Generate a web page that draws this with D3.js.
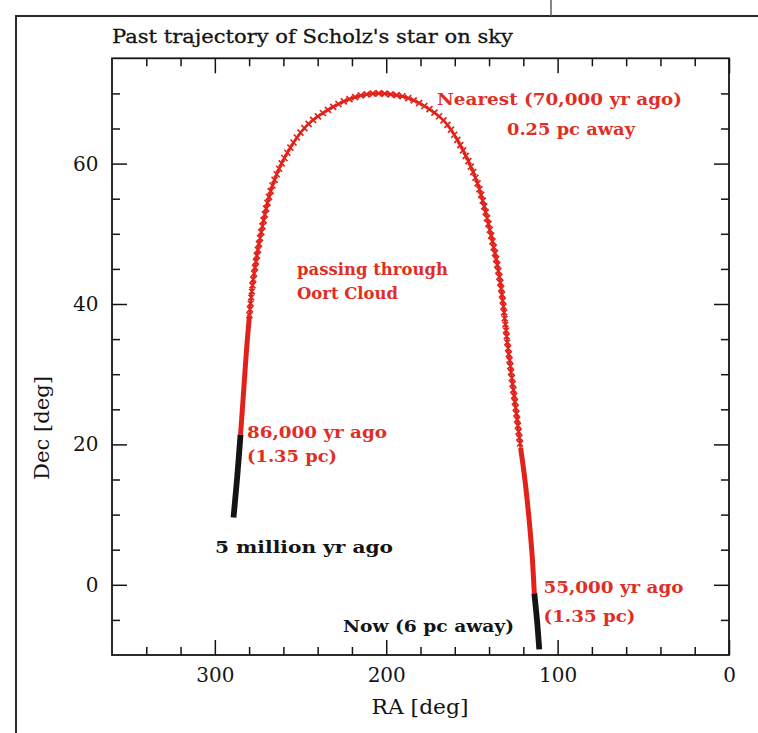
<!DOCTYPE html>
<html>
<head>
<meta charset="utf-8">
<script src="https://cdn.jsdelivr.net/npm/d3@7"></script>
<style>
  html, body { margin: 0; padding: 0; background: #ffffff; }
  svg { display: block; }
</style>
</head>
<body>
<svg id="chart" width="758" height="733"></svg>
<script>
// Scholz's star: its past path across the sky, RA / Dec in degrees.

const raTicksMajor = [300, 200, 100, 0];
const raTicksMinor = [340, 320, 280, 260, 240, 220, 180, 160, 140, 120, 80, 60, 40, 20];
const decTicksMajor = [0, 20, 40, 60];
const decTicksMinor = [-5, 5, 10, 15, 25, 30, 35, 45, 50, 55, 65, 70];

// [RA, Dec] — 5 million yr ago up to 86,000 yr ago (black)
const trackEarly = [[289.1, 9.6], [287.0, 15.2], [285.0, 21.4]];
// 86,000 yr ago, entering the Oort Cloud (red, solid)
const trackInbound = [[285.0, 21.4], [283.3, 27.2], [281.5, 33.5], [279.8, 38.4]];
// through closest approach, 70,000 yr ago (red, marked steps)
const trackArc = [
  [279.8, 38.4], [277.7, 43.3], [272.8, 50.4], [266.6, 56.7], [258.5, 61.2],
  [246.8, 65.3], [231.6, 68.0], [216.5, 69.6], [205.4, 70.0], [195.3, 69.8],
  [187.9, 69.4], [174.4, 67.7], [166.0, 66.0], [158.1, 63.2], [147.2, 57.5],
  [139.4, 50.4], [133.6, 43.3], [128.9, 33.7], [124.0, 24.3], [121.6, 19.5]
];
// leaving the Oort Cloud, down to 55,000 yr ago (red, solid)
const trackOutbound = [[121.6, 19.5], [119.0, 14.8], [115.2, 5.3], [113.6, -1.2]];
// 55,000 yr ago up to now (black)
const trackLate = [[113.6, -1.2], [112.0, -5.1], [110.7, -9.2]];

const RED = "#e2221a";
const RED_TEXT = "#df2e26";
const INK = "#141414";

const svg = d3.select("#chart");
const plotLeft = 112, plotRight = 729, plotTop = 58.3, plotBottom = 655;

const x = d3.scaleLinear().domain([360, 0]).range([plotLeft, plotRight]);
const y = d3.scaleLinear().domain([-10, 75]).range([plotBottom, plotTop]);

// page border
svg.append("path")
  .attr("d", `M16,733 V16 H758`)
  .attr("fill", "none").attr("stroke", "#2a2a2a").attr("stroke-width", 2);
svg.append("line")
  .attr("x1", 551).attr("x2", 551).attr("y1", 0).attr("y2", 16)
  .attr("stroke", "#555").attr("stroke-width", 1.4);

// title
svg.append("text")
  .attr("x", 112).attr("y", 43)
  .attr("font-family", "DejaVu Serif").attr("font-size", 18.5)
  .attr("fill", INK).attr("stroke", INK).attr("stroke-width", 0.3)
  .attr("textLength", 401).attr("lengthAdjust", "spacingAndGlyphs")
  .text("Past trajectory of Scholz's star on sky");

// axes: ticks point inward on all four sides
function styleAxis(g) {
  g.select(".domain").remove();
  g.style("color", INK);
  g.selectAll(".tick line").attr("stroke-width", 1.5);
  g.selectAll(".tick text")
    .attr("font-family", "DejaVu Serif").attr("font-size", 20).attr("fill", INK);
}
const fmt = d3.format("d");

svg.append("g").attr("transform", `translate(0,${plotBottom})`)
  .call(d3.axisBottom(x).tickValues(raTicksMajor).tickSize(-15).tickPadding(12.8).tickFormat(fmt))
  .call(styleAxis);
svg.append("g").attr("transform", `translate(0,${plotBottom})`)
  .call(d3.axisBottom(x).tickValues(raTicksMinor).tickSize(-8).tickFormat(""))
  .call(styleAxis);
svg.append("g").attr("transform", `translate(0,${plotTop})`)
  .call(d3.axisTop(x).tickValues(raTicksMajor).tickSize(-15).tickFormat(""))
  .call(styleAxis);
svg.append("g").attr("transform", `translate(0,${plotTop})`)
  .call(d3.axisTop(x).tickValues(raTicksMinor).tickSize(-8).tickFormat(""))
  .call(styleAxis);
svg.append("g").attr("transform", `translate(${plotLeft},0)`)
  .call(d3.axisLeft(y).tickValues(decTicksMajor).tickSize(-15).tickPadding(13.5).tickFormat(fmt))
  .call(styleAxis);
svg.append("g").attr("transform", `translate(${plotLeft},0)`)
  .call(d3.axisLeft(y).tickValues(decTicksMinor).tickSize(-8).tickFormat(""))
  .call(styleAxis);
svg.append("g").attr("transform", `translate(${plotRight},0)`)
  .call(d3.axisRight(y).tickValues(decTicksMajor).tickSize(-15).tickFormat(""))
  .call(styleAxis);
svg.append("g").attr("transform", `translate(${plotRight},0)`)
  .call(d3.axisRight(y).tickValues(decTicksMinor).tickSize(-8).tickFormat(""))
  .call(styleAxis);

// frame
svg.append("rect")
  .attr("x", plotLeft).attr("y", plotTop)
  .attr("width", plotRight - plotLeft).attr("height", plotBottom - plotTop)
  .attr("fill", "none").attr("stroke", INK).attr("stroke-width", 1.8);

// axis titles
svg.append("text")
  .attr("x", (plotLeft + plotRight) / 2 - 0.5).attr("y", 714)
  .attr("text-anchor", "middle")
  .attr("font-family", "DejaVu Serif").attr("font-size", 21).attr("fill", INK)
  .attr("textLength", 97).attr("lengthAdjust", "spacingAndGlyphs")
  .text("RA [deg]");
svg.append("text")
  .attr("transform", "translate(49,428) rotate(-90)")
  .attr("text-anchor", "middle")
  .attr("font-family", "DejaVu Serif").attr("font-size", 21).attr("fill", INK)
  .attr("textLength", 104).attr("lengthAdjust", "spacingAndGlyphs")
  .text("Dec [deg]");

// trajectory
const line = d3.line()
  .x(d => x(d[0])).y(d => y(d[1]))
  .curve(d3.curveCatmullRom.alpha(0.5));

const plot = svg.append("g");

plot.append("path").datum(trackEarly)
  .attr("d", line).attr("fill", "none")
  .attr("stroke", INK).attr("stroke-width", 5.8);
plot.append("path").datum(trackLate)
  .attr("d", line).attr("fill", "none")
  .attr("stroke", INK).attr("stroke-width", 5.8);

[trackInbound, trackOutbound].forEach(seg => {
  plot.append("path").datum(seg)
    .attr("d", line).attr("fill", "none")
    .attr("stroke", RED).attr("stroke-width", 5);
});

const arcPath = plot.append("path").datum(trackArc)
  .attr("d", line).attr("fill", "none")
  .attr("stroke", RED).attr("stroke-width", 2.6);

// step markers (x symbols) along the arc
const arcNode = arcPath.node();
const arcLen = arcNode.getTotalLength();
const step = 6, arm = 3;
let marks = "";
for (let s = 0; s <= arcLen; s += step) {
  const p = arcNode.getPointAtLength(s);
  marks += `M${p.x - arm},${p.y - arm}L${p.x + arm},${p.y + arm}` +
           `M${p.x - arm},${p.y + arm}L${p.x + arm},${p.y - arm}`;
}
plot.append("path").attr("d", marks)
  .attr("fill", "none").attr("stroke", RED).attr("stroke-width", 1.7);

// annotations
function note(lines, x0, y0, dy, width, color) {
  lines.forEach((t, i) => {
    svg.append("text")
      .attr("x", x0).attr("y", y0 + i * dy)
      .attr("font-family", "DejaVu Serif").attr("font-weight", "bold")
      .attr("font-size", 17).attr("fill", color)
      .attr("textLength", width[i]).attr("lengthAdjust", "spacingAndGlyphs")
      .text(t);
  });
}
note(["Nearest (70,000 yr ago)"], 437, 105, 0, [245], RED_TEXT);
note(["0.25 pc away"], 507, 135, 0, [128], RED_TEXT);
note(["passing through", "Oort Cloud"], 297, 275, 24, [151, 101], RED_TEXT);
note(["86,000 yr ago", "(1.35 pc)"], 247, 437.5, 24, [140, 90], RED_TEXT);
note(["5 million yr ago"], 215, 553, 0, [178], INK);
note(["55,000 yr ago", "(1.35 pc)"], 543.5, 593, 29, [140, 92], RED_TEXT);
note(["Now (6 pc away)"], 343, 632, 0, [171], INK);
</script>
</body>
</html>
